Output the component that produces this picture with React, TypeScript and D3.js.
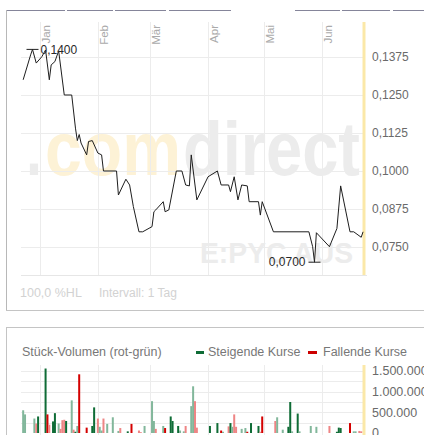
import React from "react";
import * as d3 from "d3";

const priceDates = [
  "2013-12-23","2013-12-27","2013-12-28","2013-12-30","2014-01-02","2014-01-04","2014-01-06","2014-01-07",
  "2014-01-09","2014-01-11","2014-01-14","2014-01-18","2014-01-20","2014-01-21","2014-01-22","2014-01-23",
  "2014-01-26","2014-01-27","2014-01-29","2014-02-01","2014-02-03","2014-02-04","2014-02-11","2014-02-12",
  "2014-02-16","2014-02-18","2014-02-20","2014-02-23","2014-02-25","2014-03-02","2014-03-03","2014-03-04",
  "2014-03-08","2014-03-09","2014-03-11","2014-03-15","2014-03-18","2014-03-20","2014-03-22","2014-03-23",
  "2014-03-26","2014-04-01","2014-04-06","2014-04-08","2014-04-12","2014-04-13","2014-04-15","2014-04-17",
  "2014-04-19","2014-04-22","2014-04-23","2014-04-28","2014-04-29","2014-04-30","2014-05-06","2014-05-25",
  "2014-05-27","2014-05-28","2014-05-29","2014-06-05","2014-06-09","2014-06-11","2014-06-16","2014-06-18",
  "2014-06-22","2014-06-23",
];
const priceValues = [
  0.13, 0.1382, 0.14, 0.1355, 0.1376, 0.1398, 0.13, 0.1349,
  0.136, 0.1395, 0.125, 0.125, 0.1141, 0.11, 0.112, 0.1092,
  0.1053, 0.1097, 0.11, 0.1059, 0.1053, 0.1, 0.1, 0.0921,
  0.0973, 0.0954, 0.0883, 0.08, 0.08, 0.0817, 0.0866, 0.0872,
  0.0899, 0.0866, 0.0872, 0.1, 0.1, 0.0954, 0.0951, 0.1053,
  0.0905, 0.0981, 0.1, 0.0954, 0.0954, 0.0932, 0.0981, 0.0905,
  0.0954, 0.0951, 0.0899, 0.0899, 0.0855, 0.0899, 0.08, 0.08,
  0.0751, 0.07, 0.0797, 0.0751, 0.0811, 0.0951, 0.08, 0.08,
  0.0782, 0.08,
];

const volDates = [
  "2013-12-23","2013-12-24","2013-12-29","2013-12-30","2013-12-31",
  "2014-01-04","2014-01-05","2014-01-06","2014-01-08","2014-01-09","2014-01-11","2014-01-12","2014-01-13","2014-01-14","2014-01-15","2014-01-18","2014-01-19","2014-01-20","2014-01-21","2014-01-22","2014-01-26","2014-01-29","2014-01-30",
  "2014-02-01","2014-02-02","2014-02-03","2014-02-04","2014-02-06","2014-02-09","2014-02-12","2014-02-13","2014-02-17","2014-02-19","2014-02-23","2014-02-24","2014-02-26",
  "2014-03-02","2014-03-03","2014-03-04","2014-03-08","2014-03-09","2014-03-12","2014-03-13","2014-03-16","2014-03-17","2014-03-19","2014-03-20","2014-03-23","2014-03-24","2014-03-25","2014-03-26",
  "2014-04-02","2014-04-06","2014-04-08","2014-04-09","2014-04-12","2014-04-13","2014-04-14","2014-04-15","2014-04-16","2014-04-19","2014-04-21","2014-04-22","2014-04-24","2014-04-28","2014-04-29","2014-04-30",
  "2014-05-07","2014-05-08","2014-05-11","2014-05-14","2014-05-15","2014-05-16","2014-05-19","2014-05-20","2014-05-26","2014-05-29",
  "2014-06-05","2014-06-09","2014-06-10","2014-06-11","2014-06-16","2014-06-18","2014-06-19","2014-06-21","2014-06-22",
];
const volValues = [
  550000, 450000, 350000, 230000, 400000,
  1560000, 450000, 200000, 280000, 480000, 230000, 100000, 310000, 320000, 290000, 790000, 80000, 30000, 170000, 1420000, 130000, 170000, 620000,
  350000, 150000, 60000, 350000, 220000, 380000, 50000, 120000, 40000, 220000, 60000, 20000, 170000,
  770000, 290000, 100000, 170000, 120000, 400000, 290000, 170000, 60000, 40000, 170000, 650000, 1130000, 770000, 130000,
  170000, 240000, 60000, 30000, 160000, 240000, 150000, 450000, 150000, 100000, 120000, 30000, 240000, 170000, 30000, 400000,
  290000, 380000, 80000, 150000, 750000, 40000, 470000, 40000, 170000, 150000,
  170000, 30000, 130000, 120000, 240000, 40000, 40000, 50000, 40000,
];
// g = rising (green), r = falling (red); d = dark, p = pale
const volKinds = [
  "gp","gp","gp","rp","gd",
  "gd","rd","rp","gd","gd","gp","rp","rp","rp","gd","gp","rp","gd","gp","rd","rd","gd","gd",
  "rp","gp","gp","rp","gp","gp","gp","rp","gd","rd","rp","rp","gp",
  "gp","gp","rp","gp","rd","gd","gd","gd","gp","gp","rp","gp","gp","rp","rp",
  "gd","gd","rd","gp","rp","gd","gp","rp","rp","gp","gp","rd","gd","gd","rp","rd",
  "rp","gp","gp","gd","gd","gp","gd","gp","gp","gp",
  "rp","gd","gd","gd","rd","gp","gp","rp","rp",
];

const monthLabels = ["Jan", "Feb", "Mär", "Apr", "Mai", "Jun"];
const priceTicks = [0.1375, 0.125, 0.1125, 0.1, 0.0875, 0.075];
const volTicks = [0, 500000, 1000000, 1500000];
const volGridTicks = [250000, 500000, 750000, 1000000, 1250000, 1500000];
const xDomain = ["2013-12-22", "2014-06-25"];

const kindColor: Record<string, string> = {
  gd: "#0f6c36",
  gp: "#82b79b",
  rd: "#d40000",
  rp: "#ee8585",
};

const de = d3.formatLocale({ decimal: ",", thousands: ".", grouping: [3], currency: ["", "€"] });
const fmtPrice = de.format(".4f");
const fmtVol = de.format(",.0f");

export default function App() {
  const parse = d3.timeParse("%Y-%m-%d");
  const FONT = "'Liberation Sans', Arial, sans-serif";

  const left = 21.3, right = 366.8;
  const x = d3.scaleTime().domain([parse(xDomain[0])!, parse(xDomain[1])!]).range([left, right]);
  const y = d3.scaleLinear().domain([0.06579, 0.14901]).range([275, 22]);
  const yv = d3.scaleLinear().domain([0, 1500000]).range([433, 371]);

  const pts = priceDates.map((d, i) => ({ date: parse(d)!, v: priceValues[i] }));
  const line = d3.line<{ date: Date; v: number }>().x((d) => x(d.date)).y((d) => y(d.v));

  const months = d3.timeMonth.range(parse("2014-01-01")!, parse("2014-06-02")!);

  const hi = pts[d3.maxIndex(pts, (d) => d.v)];
  const lo = pts[d3.minIndex(pts, (d) => d.v)];

  const gridColor = "#ececec";
  const yellowX = 364;

  return (
    <svg width={424} height={435} style={{ position: "absolute", left: 0, top: 0, background: "#fff" }} fontFamily={FONT}>
      {/* top tab border */}
      {[[6, 65], [67, 113], [115, 166], [169, 231], [295, 340], [342, 390], [393, 424]].map(([a, b], i) => (
        <line key={"tb" + i} x1={a} x2={b} y1={10.5} y2={10.5} stroke="#85859a" strokeWidth={1} />
      ))}
      {/* main panel frame */}
      <line x1={6.5} x2={6.5} y1={10} y2={310} stroke="#b8b8b8" />
      <line x1={6} x2={424} y1={310.5} y2={310.5} stroke="#c4c4c4" />

      {/* watermark */}
      <text x={26} y={175} fontSize={76} fontWeight="bold" fill="#ececec" textLength={16} lengthAdjust="spacingAndGlyphs">.</text>
      <text x={45} y={175} fontSize={76} fontWeight="bold" fill="#fdf2d6" textLength={136} lengthAdjust="spacingAndGlyphs">com</text>
      <text x={183} y={175} fontSize={76} fontWeight="bold" fill="#ececec" textLength={177} lengthAdjust="spacingAndGlyphs">direct</text>
      <text x={200} y={263} fontSize={29} fontWeight="bold" fill="#ececec" textLength={153} lengthAdjust="spacingAndGlyphs">E:PYC AUS</text>

      {/* grid */}
      {priceTicks.map((t) => (
        <line key={"hg" + t} x1={21} x2={yellowX} y1={Math.round(y(t)) + 0.5} y2={Math.round(y(t)) + 0.5} stroke={gridColor} />
      ))}
      {months.map((m) => (
        <line key={"vg" + +m} x1={Math.round(x(m)) + 0.5} x2={Math.round(x(m)) + 0.5} y1={22} y2={275} stroke={gridColor} />
      ))}
      <line x1={21} x2={367} y1={275.5} y2={275.5} stroke="#e6e6e6" />
      <line x1={yellowX} x2={yellowX} y1={22} y2={275} stroke="#fbe8a8" strokeWidth={3} />

      {/* month labels */}
      {months.map((m, i) => (
        <text key={"ml" + i} transform={`translate(${Math.round(x(m)) + 10},25) rotate(-90)`} textAnchor="end" fontSize={11.5} fill="#aaaaaa">
          {monthLabels[i]}
        </text>
      ))}

      {/* y axis labels */}
      {priceTicks.map((t) => (
        <text key={"yl" + t} x={372} y={y(t)} dy="0.33em" fontSize={12} fill="#6a6a6a">
          {fmtPrice(t)}
        </text>
      ))}

      {/* price line */}
      <path d={line(pts)!} fill="none" stroke="#1e1e1e" strokeWidth={1} strokeLinejoin="round" />

      {/* hi / lo markers */}
      <line x1={x(hi.date) - 6} x2={x(hi.date) + 6} y1={y(hi.v)} y2={y(hi.v)} stroke="#222" />
      <text x={x(hi.date) + 8} y={y(hi.v)} dy="0.35em" fontSize={12} fill="#2a2a2a">{fmtPrice(hi.v)}</text>
      <line x1={x(lo.date) - 6} x2={x(lo.date) + 6} y1={y(lo.v)} y2={y(lo.v)} stroke="#222" />
      <text x={x(lo.date) - 9} y={y(lo.v)} dy="0.35em" fontSize={12} fill="#2a2a2a" textAnchor="end">{fmtPrice(lo.v)}</text>

      {/* footer texts */}
      <text x={20} y={297} fontSize={12.5} fill="#d2d2d2">100,0 %HL</text>
      <text x={99} y={297} fontSize={12} fill="#d2d2d2">Intervall: 1 Tag</text>

      {/* volume panel */}
      <line x1={6.5} x2={6.5} y1={327} y2={435} stroke="#c4c4c4" />
      <line x1={6} x2={424} y1={327.5} y2={327.5} stroke="#c4c4c4" />

      <text x={22} y={356} fontSize={12.5} fill="#777">Stück-Volumen (rot-grün)</text>
      <line x1={196} x2={204} y1={352.5} y2={352.5} stroke="#0f6c36" strokeWidth={3} />
      <text x={208} y={356} fontSize={12.5} fill="#777">Steigende Kurse</text>
      <line x1={308} x2={317} y1={352.5} y2={352.5} stroke="#cc0000" strokeWidth={3} />
      <text x={323} y={356} fontSize={12.5} fill="#777">Fallende Kurse</text>

      {volGridTicks.map((t) => (
        <line key={"vh" + t} x1={21} x2={yellowX} y1={Math.round(yv(t)) + 0.5} y2={Math.round(yv(t)) + 0.5} stroke={gridColor} />
      ))}
      {months.map((m) => (
        <line key={"vvg" + +m} x1={Math.round(x(m)) + 0.5} x2={Math.round(x(m)) + 0.5} y1={365} y2={435} stroke={gridColor} />
      ))}
      <line x1={yellowX} x2={yellowX} y1={365} y2={435} stroke="#fbe8a8" strokeWidth={3} />

      {volDates.map((d, i) => {
        const cx = x(parse(d)!);
        return (
          <rect
            key={"vb" + i}
            x={cx - 1}
            y={yv(volValues[i])}
            width={2}
            height={yv(0) - yv(volValues[i])}
            fill={kindColor[volKinds[i]]}
          />
        );
      })}

      {volTicks.map((t) => (
        <text key={"vl" + t} x={372} y={yv(t)} dy="0.35em" fontSize={12.5} fill="#6a6a6a">
          {fmtVol(t)}
        </text>
      ))}
    </svg>
  );
}
